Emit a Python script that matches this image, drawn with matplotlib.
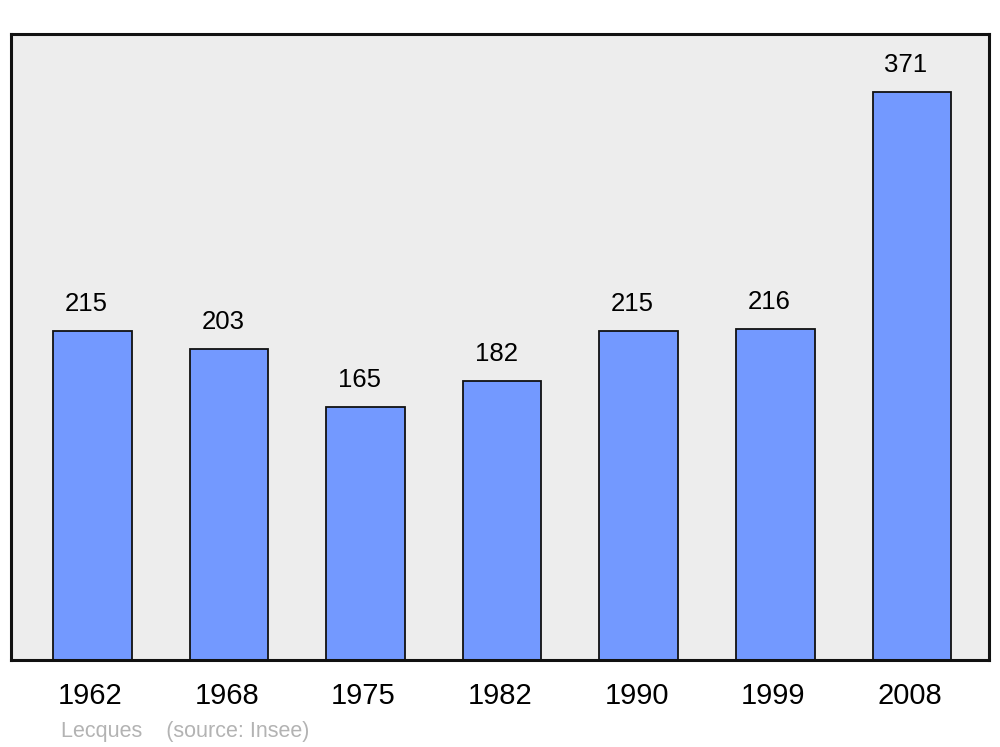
import matplotlib
matplotlib.use("Agg")
import matplotlib.pyplot as plt
import matplotlib.transforms as mtransforms
import numpy as np

plt.rcParams['font.family'] = ['Liberation Sans', 'DejaVu Sans']

years = ['1962', '1968', '1975', '1982', '1990', '1999', '2008']
population = [215, 203, 165, 182, 215, 216, 371]

fig = plt.figure(figsize=(10, 7.47), dpi=100)
ax = fig.add_axes([11/1000, 87/747, 978/1000, 626/747])
ax.set_facecolor('#ededed')

x = np.arange(len(years))
bars = ax.bar(x, population, width=0.575, color='#7399ff', edgecolor='#111111',
              linewidth=1.3, zorder=2)

# value labels sit a bit left of the bar centre in the original
for xi, v in zip(x, population):
    ax.annotate(str(v), (xi, v), xytext=(-6, 27), textcoords='offset pixels',
                ha='center', va='center', fontsize=18.5, color='black')

ax.set_xlim(-0.595, 6.565)
ax.set_ylim(0, 409)
ax.set_yticks([])
ax.set_xticks(x)
ax.set_xticklabels(years, fontsize=21)
ax.tick_params(axis='x', length=0, pad=16)
shift = mtransforms.ScaledTranslation(-2/100, 0, fig.dpi_scale_trans)
for lab in ax.get_xticklabels():
    lab.set_transform(lab.get_transform() + shift)

for s in ax.spines.values():
    s.set_linewidth(2.2)
    s.set_color('#111111')

fig.text(61/1000, 1 - 732/747, 'Lecques    (source: Insee)', fontsize=15.5,
         color='#b3b3b3', ha='left', va='center')

fig.savefig('out.png', dpi=100)
